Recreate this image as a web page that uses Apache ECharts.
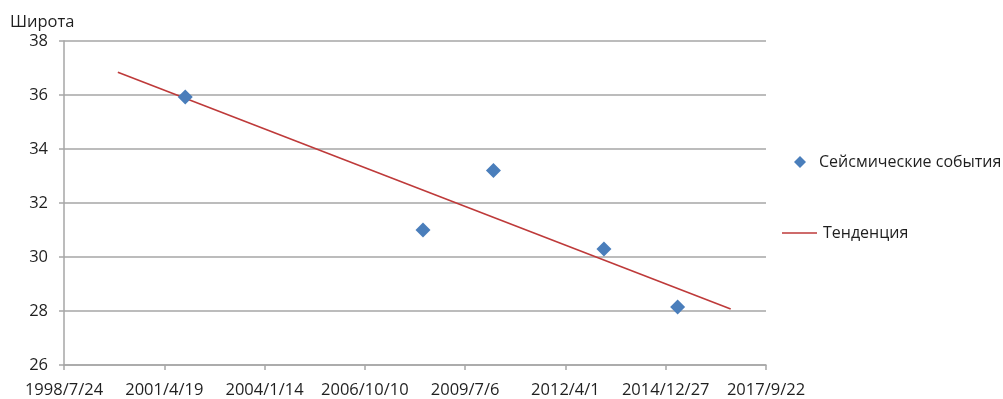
<!DOCTYPE html>
<html>
<head>
<meta charset="utf-8">
<script src="https://cdn.jsdelivr.net/npm/echarts@6/dist/echarts.min.js"></script>
<style>
  html, body { margin: 0; padding: 0; background: #fff; }
  #chart { width: 1003px; height: 399px; }
</style>
</head>
<body>
<div id="chart"></div>
<script>
// Event dates and latitudes
const eventDates = ['2001-11-14', '2008-05-12', '2010-04-14', '2013-04-20', '2015-04-25'];
const eventLatitudes = [35.93, 31.0, 33.2, 30.3, 28.15];

// Linear trend end points (date, latitude)
const trendDates = ['2000-01-12', '2016-10-05'];
const trendLatitudes = [36.84, 28.07];

// Axis ranges (x in spreadsheet day numbers, 1000-day steps)
const xMin = 36000, xMax = 43000, xStep = 1000;
const yMin = 26, yMax = 38, yStep = 2;

const seriesNames = ['Сейсмические события', 'Тенденция'];
const yAxisTitle = 'Широта';

const EPOCH = 25569; // day number of 1970-01-01
function toDayNumber(s) {
  const [y, m, d] = s.split('-').map(Number);
  return Date.UTC(y, m - 1, d) / 86400000 + EPOCH;
}
function dayLabel(v) {
  const dt = new Date((v - EPOCH) * 86400000);
  return dt.getUTCFullYear() + '/' + (dt.getUTCMonth() + 1) + '/' + dt.getUTCDate();
}

const scatterData = eventDates.map((d, i) => [toDayNumber(d), eventLatitudes[i]]);
const trendData = trendDates.map((d, i) => [toDayNumber(d), trendLatitudes[i]]);

const font = '"Open Sans", "Noto Sans", sans-serif';
const textColor = '#1f1f1f';
const gridColor = '#a6a6a6';
const fs = 16.5;

const chart = echarts.init(document.getElementById('chart'), null, { renderer: 'canvas' });
chart.setOption({
  animation: false,
  backgroundColor: '#ffffff',
  textStyle: { fontFamily: font },
  grid: { left: 64, right: 237, top: 41, bottom: 33, containLabel: false },
  title: {
    text: yAxisTitle,
    left: 10, top: 14, padding: 0,
    textStyle: { fontFamily: font, fontSize: fs, fontWeight: 'normal', color: textColor }
  },
  legend: [
    {
      data: [{ name: seriesNames[0], icon: 'diamond' }],
      left: 794, top: 154, padding: 0,
      itemWidth: 12, itemHeight: 12, itemGap: 10,
      textStyle: { fontFamily: font, fontSize: 16, color: textColor, padding: [0, 0, 0, 8] }
    },
    {
      data: [{ name: seriesNames[1], icon: 'rect' }],
      left: 782, top: 225, padding: 0,
      itemWidth: 35, itemHeight: 1.5,
      textStyle: { fontFamily: font, fontSize: 16, color: textColor, padding: [0, 0, 0, 1] }
    }
  ],
  xAxis: {
    type: 'value',
    min: xMin, max: xMax, interval: xStep,
    axisLine: { show: true, lineStyle: { color: gridColor, width: 1.5 } },
    axisTick: { show: true, length: 5, lineStyle: { color: gridColor, width: 1.5 } },
    splitLine: { show: false },
    axisLabel: {
      formatter: dayLabel,
      fontFamily: font, fontSize: fs, color: textColor, margin: 17
    }
  },
  yAxis: {
    type: 'value',
    min: yMin, max: yMax, interval: yStep,
    axisLine: { show: true, lineStyle: { color: gridColor, width: 1.5 } },
    axisTick: { show: true, length: 5, lineStyle: { color: gridColor, width: 1.5 } },
    splitLine: { show: true, lineStyle: { color: gridColor, width: 1.5 } },
    axisLabel: { fontFamily: font, fontSize: fs, color: textColor, margin: 16 }
  },
  series: [
    {
      name: seriesNames[0],
      type: 'scatter',
      symbol: 'diamond',
      symbolSize: 15,
      itemStyle: { color: '#4a7ebb', opacity: 1 },
      data: scatterData,
      z: 3
    },
    {
      name: seriesNames[1],
      type: 'line',
      symbol: 'none',
      lineStyle: { color: '#be3a3a', width: 1.6 },
      itemStyle: { color: '#be3a3a' },
      data: trendData,
      z: 2
    }
  ]
});
</script>
</body>
</html>
